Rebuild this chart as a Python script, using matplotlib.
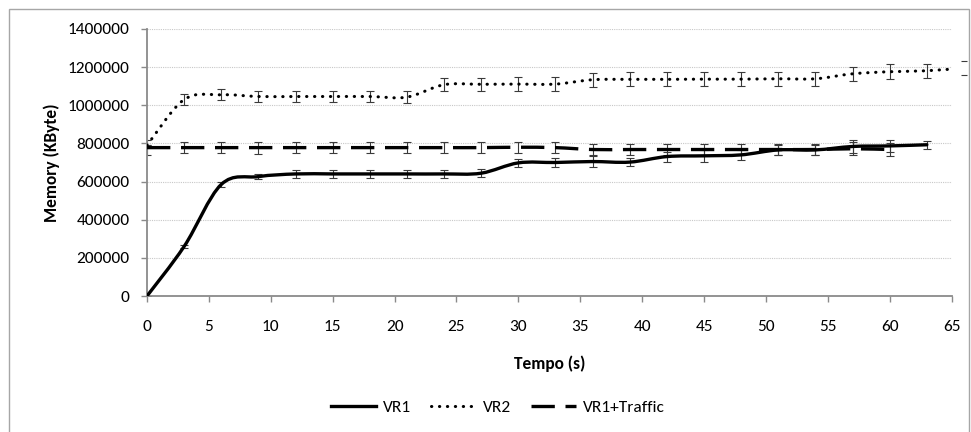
import matplotlib
matplotlib.use("Agg")
import matplotlib.pyplot as plt
import matplotlib.patches as patches
from matplotlib.path import Path
from matplotlib.lines import Line2D

plt.rcParams["font.family"] = ["Carlito", "Liberation Sans", "DejaVu Sans"]

# time (s)
t_vr1 = [0, 3, 6, 9, 12, 15, 18, 21, 24, 27, 30, 33, 36, 39, 42, 45, 48, 51, 54, 57, 60, 63]
vr1 = [0, 260000, 585000, 626000, 640000, 640000, 640000, 640000, 640000, 644000,
       698000, 700000, 705000, 702000, 731000, 735000, 740000, 766000, 766000, 784000,
       787000, 793000]
vr1_err = [0, 10000, 15000, 15000, 20000, 20000, 20000, 20000, 20000, 20000,
           21000, 21000, 28000, 21000, 26000, 30000, 25000, 28000, 28000, 33000,
           33000, 22000]

t_vr2 = [0, 3, 6, 9, 12, 15, 18, 21, 24, 27, 30, 33, 36, 39, 42, 45, 48, 51, 54, 57, 60, 63, 66]
vr2 = [790000, 1030000, 1055000, 1046000, 1046000, 1046000, 1046000, 1043000, 1108000,
       1110000, 1111000, 1111000, 1134000, 1136000, 1136000, 1137000, 1137000, 1139000,
       1139000, 1165000, 1176000, 1181000, 1195000]
vr2_err = [0, 29000, 28000, 30000, 30000, 30000, 30000, 30000, 35000, 35000, 35000, 35000,
           36000, 36000, 37000, 37000, 36000, 36000, 36000, 38000, 38000, 38000, 35000]

t_tr = [0, 3, 6, 9, 12, 15, 18, 21, 24, 27, 30, 33, 36, 39, 42, 45, 48, 51, 54, 57, 60]
traffic = [778000, 778000, 778000, 778000, 778000, 778000, 778000, 778000, 778000, 778000,
           780000, 778000, 768000, 768000, 768000, 768000, 768000, 768000, 768000, 772000,
           768000]
traffic_err = [38000, 30000, 30000, 32000, 30000, 30000, 30000, 30000, 30000, 30000,
               30000, 30000, 29000, 30000, 30000, 30000, 30000, 28000, 28000, 35000, 35000]


def smooth_path(xs, ys):
    # Excel-like smoothed line: bezier segments through the data points
    pts = list(zip(xs, ys))
    verts = [pts[0]]
    codes = [Path.MOVETO]
    n = len(pts)
    for i in range(n - 1):
        p0 = pts[max(i - 1, 0)]
        p1 = pts[i]
        p2 = pts[i + 1]
        p3 = pts[min(i + 2, n - 1)]
        c1 = (p1[0] + (p2[0] - p0[0]) / 6, p1[1] + (p2[1] - p0[1]) / 6)
        c2 = (p2[0] - (p3[0] - p1[0]) / 6, p2[1] - (p3[1] - p1[1]) / 6)
        verts += [c1, c2, p2]
        codes += [Path.CURVE4] * 3
    return Path(verts, codes)


fig = plt.figure(figsize=(9.71, 4.32), dpi=100)
ax = fig.add_axes([0.1514, 0.3148, 0.8286, 0.6181])

# error bars
eb = dict(fmt="none", ecolor="#3a3a3a", elinewidth=0.8, capsize=3, capthick=0.8, zorder=2)
ax.errorbar(t_vr1, vr1, yerr=vr1_err, **eb)
ax.errorbar(t_vr2[:-1], vr2[:-1], yerr=vr2_err[:-1], **eb)
# last VR2 point lies past the axis end: only its caps show
e_last = ax.errorbar(t_vr2[-1:], vr2[-1:], yerr=vr2_err[-1:], fmt="none", ecolor="#3a3a3a",
                     elinewidth=0, capsize=2, capthick=0.8)
for art in e_last.lines[1]:
    art.set_clip_on(False)
ax.errorbar(t_tr, traffic, yerr=traffic_err, **eb)

# lines
styles = [
    (t_vr1, vr1, "VR1", dict(lw=2.4, linestyle="-", capstyle="round")),
    (t_vr2, vr2, "VR2", dict(lw=2.2, linestyle=(0, (0.1, 2.5)), capstyle="round")),
    (t_tr, traffic, "VR1+Traffic", dict(lw=2.4, linestyle=(0, (7, 3.2)), capstyle="butt")),
]
handles = []
for xs, ys, name, st in styles:
    ax.add_patch(patches.PathPatch(smooth_path(xs, ys), fill=False, edgecolor="black",
                                   lw=st["lw"], linestyle=st["linestyle"],
                                   capstyle=st["capstyle"], joinstyle="round", zorder=3))
    handles.append(Line2D([], [], color="black", lw=st["lw"], linestyle=st["linestyle"],
                          dash_capstyle=st["capstyle"], label=name))

ax.set_xlim(0, 65)
ax.set_ylim(0, 1400000)
ax.set_xticks(range(0, 66, 5))
ax.set_yticks(range(0, 1400001, 200000))
ax.set_yticklabels([str(v) for v in range(0, 1400001, 200000)])
ax.grid(axis="y", color="#c8c8c8", linestyle=(0, (1, 1)), lw=0.8)
ax.set_axisbelow(True)

for s in ["top", "right"]:
    ax.spines[s].set_visible(False)
for s in ["left", "bottom"]:
    ax.spines[s].set_color("#8a8a8a")
    ax.spines[s].set_linewidth(1.3)
ax.tick_params(axis="both", direction="out", length=4, width=1, color="#8a8a8a",
               labelsize=12.5, labelcolor="black")
ax.tick_params(axis="x", pad=13)
ax.tick_params(axis="y", pad=8.5)

ax.set_xlabel("Tempo (s)", fontsize=12.5, fontweight="bold", labelpad=16)
ax.set_ylabel("Memory (KByte)", fontsize=12.5, fontweight="bold", labelpad=5.5)

fig.legend(handles=handles, loc="center", bbox_to_anchor=(0.513, 0.056), ncol=3,
           frameon=False, fontsize=12.5, handlelength=2.6, handletextpad=0.4,
           columnspacing=1.15)

# chart border
fig.patches.append(patches.Rectangle((0.009, -0.05), 0.989, 1.03, transform=fig.transFigure,
                                     fill=False, edgecolor="#a6a6a6", lw=1.0))

fig.savefig("out.png", dpi=100)
